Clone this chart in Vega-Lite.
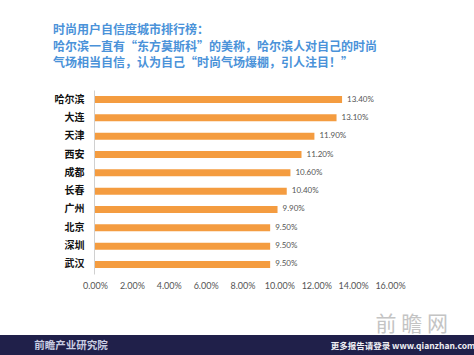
{
  "$schema": "https://vega.github.io/schema/vega-lite/v6.json",
  "padding": {"left": 0, "right": 0, "top": 24, "bottom": 0},
  "background": "white",
  "spacing": 24,
  "config": {"view": {"stroke": null}, "font": "Noto Sans CJK SC"},
  "vconcat": [
    {
      "width": 474,
      "height": 184,
      "title": {
        "text": ["时尚用户自信度城市排行榜：", "哈尔滨一直有“东方莫斯科”的美称，哈尔滨人对自己的时尚", "气场相当自信，认为自己“时尚气场爆棚，引人注目！”"],
        "anchor": "start",
        "frame": "group",
        "dx": 53,
        "fontSize": 12,
        "lineHeight": 16.5,
        "fontWeight": "bold",
        "font": "Noto Sans CJK SC",
        "color": "#4a92d9",
        "offset": 20
      },
      "data": {
        "values": [
          {"city": "哈尔滨", "value": 0.134},
          {"city": "大连", "value": 0.131},
          {"city": "天津", "value": 0.119},
          {"city": "西安", "value": 0.112},
          {"city": "成都", "value": 0.106},
          {"city": "长春", "value": 0.104},
          {"city": "广州", "value": 0.099},
          {"city": "北京", "value": 0.095},
          {"city": "深圳", "value": 0.095},
          {"city": "武汉", "value": 0.095}
        ]
      },
      "encoding": {
        "y": {
          "field": "city",
          "type": "nominal",
          "sort": null,
          "scale": {"paddingInner": 0.62, "paddingOuter": 0.33},
          "axis": {
            "title": null,
            "offset": -94,
            "minExtent": 0,
            "domain": true,
            "domainColor": "#d0d0d0",
            "ticks": false,
            "labelPadding": 10,
            "labelFontSize": 10,
            "labelFontWeight": "bold",
            "labelColor": "#111111",
            "labelFont": "Noto Sans CJK SC"
          }
        },
        "x": {
          "field": "value",
          "type": "quantitative",
          "scale": {"domain": [0, 0.16], "nice": false, "range": [95, 390]},
          "axis": {
            "title": null,
            "format": ".2%",
            "values": [0, 0.02, 0.04, 0.06, 0.08, 0.1, 0.12, 0.14, 0.16],
            "labelOverlap": false,
            "labelFlush": false,
            "domain": false,
            "ticks": false,
            "grid": false,
            "labelPadding": 7,
            "labelFontSize": 9,
            "labelFont": "Lato",
            "labelColor": "#555555"
          }
        }
      },
      "layer": [
        {"mark": {"type": "bar", "color": "#f49c40"}},
        {
          "mark": {"type": "text", "align": "left", "dx": 5, "fontSize": 8, "font": "Lato", "color": "#555555"},
          "encoding": {"text": {"field": "value", "type": "quantitative", "format": ".2%"}}
        }
      ]
    },
    {
      "width": 474,
      "height": 22,
      "view": {"fill": "#20204a", "stroke": null},
      "title": {
        "text": "前 瞻 网",
        "anchor": "end",
        "frame": "group",
        "dx": -26,
        "fontSize": 21,
        "fontWeight": "normal",
        "font": "Noto Sans CJK SC",
        "color": "#c4c4c4",
        "offset": 0
      },
      "data": {
        "values": [
          {"label": "前瞻产业研究院"},
          {"label": "更多报告请登录 www.qianzhan.com"}
        ]
      },
      "encoding": {
        "x": {"field": "label", "type": "nominal", "sort": null, "scale": {"type": "point", "padding": 0.214}, "axis": null},
        "text": {"field": "label"}
      },
      "layer": [
        {
          "transform": [{"filter": "datum.label == '前瞻产业研究院'"}],
          "mark": {"type": "text", "fontSize": 10.5, "fontWeight": "bold", "color": "#c9cde2", "font": "Noto Sans CJK SC"}
        },
        {
          "transform": [{"filter": "datum.label != '前瞻产业研究院'"}],
          "mark": {"type": "text", "fontSize": 8.5, "fontWeight": "bold", "color": "#f0f0f5", "font": "Noto Sans CJK SC"}
        }
      ]
    }
  ]
}
